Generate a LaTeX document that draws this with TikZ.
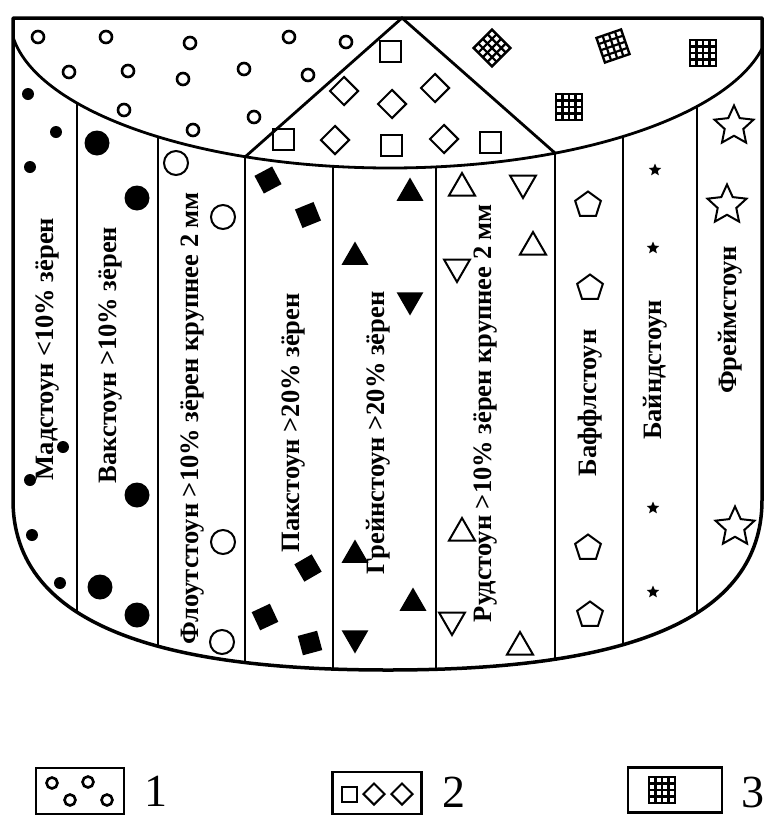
\documentclass[tikz,border=0pt]{standalone}
\usepackage{fontspec}
\setmainfont{Liberation Serif}
\usetikzlibrary{shapes.geometric,positioning}

\tikzset{
    gridsq/.pic={
        \fill[white] (-13,-13) rectangle (13,13);
        \draw[line width=2.4pt] (-13,-13) rectangle (13,13);
        \foreach \k in {-6.5,0,6.5} {
            \draw[line width=2.2pt] (\k,-13) -- (\k,13) (-13,\k) -- (13,\k);
        }
    }
}

\begin{document}
\begin{tikzpicture}[x=1pt, y=-1pt,
        outline/.style={line width=3.5pt, line join=round},
        divider/.style={line width=1.7pt},
        groupline/.style={line width=2.8pt},
        rocktext/.style={rotate=90, inner sep=0pt, font=\fontsize{26.5}{28}\selectfont\bfseries},
        keytext/.style={inner sep=0pt, font=\fontsize{46}{48}\selectfont},
        keybox/.style={rectangle, draw, line width=2.3pt, inner sep=0pt},
        smallring/.style={circle, draw, line width=2.6pt, minimum size=12pt, inner sep=0pt},
        mudgrain/.style={circle, fill=black, minimum size=12pt, inner sep=0pt},
        biggrain/.style={circle, fill=black, minimum size=25pt, inner sep=0pt},
        opengrain/.style={circle, draw, line width=2pt, minimum size=24pt, inner sep=0pt},
        packgrain/.style={rectangle, fill=black, minimum size=20pt, inner sep=0pt},
        graintri/.style={regular polygon, regular polygon sides=3, fill=black, minimum size=31pt, inner sep=0pt},
        rudtri/.style={regular polygon, regular polygon sides=3, draw, line width=2pt, minimum size=30pt, inner sep=0pt},
        pentagon/.style={regular polygon, regular polygon sides=5, draw, line width=2pt, minimum size=27pt, inner sep=0pt},
        bindstar/.style={star, star points=5, star point ratio=2.2, fill=black, minimum size=13pt, inner sep=0pt},
        framestar/.style={star, star points=5, star point ratio=2.1, draw, line width=2pt, minimum size=41pt, inner sep=0pt},
        opensq/.style={rectangle, draw, line width=2pt, minimum size=21pt, inner sep=0pt},
        opendia/.style={diamond, draw, line width=2pt, minimum size=29pt, inner sep=0pt}]

    \useasboundingbox (0,0) rectangle (767,817);

    \coordinate (apex) at (402,18);
    \coordinate (jl) at (245,157);
    \coordinate (jr) at (555,153);

    \begin{scope}
        \clip (13,18) -- (762,18) -- (762,500) .. controls (762,640) and (576,670) .. (388,670)
            .. controls (200,670) and (13,640) .. (13,500) -- cycle;
        \foreach \xd in {77,158,333,436,623,697}
            \draw[divider] (\xd,0) -- (\xd,720);
        \foreach \xd in {245,555}
            \draw[groupline] (\xd,0) -- (\xd,720);
        \draw[groupline, fill=white] (390,18) ellipse [x radius=380pt, y radius=150pt];
    \end{scope}
    \draw[groupline] (jl) -- (apex) -- (jr);
    \draw[outline] (13,18) -- (762,18) -- (762,500) .. controls (762,640) and (576,670) .. (388,670)
        .. controls (200,670) and (13,640) .. (13,500) -- cycle;

    % upper field
    \foreach \p [count=\i] in {(38,37),(106,37),(190,43),(289,37),(346,42),(69,72),(128,71),
            (183,79),(244,69),(308,75),(124,110),(193,130),(254,117)}
        \node[smallring] (ring\i) at \p {};
    \foreach \p [count=\i] in {(390,51),(283,139),(391,145),(490,142)}
        \node[opensq] (sq\i) at \p {};
    \foreach \p [count=\i] in {(344,91),(392,104),(435,88),(335,140),(444,139)}
        \node[opendia] (dia\i) at \p {};
    \pic[rotate=45] at (492,48) {gridsq};
    \pic[rotate=19] at (613,46) {gridsq};
    \pic at (703,53) {gridsq};
    \pic at (569,107) {gridsq};

    % columns
    \foreach \p [count=\i] in {(28,94),(56,132),(30,167),(63,447),(30,480),(32,535),(60,583)}
        \node[mudgrain] (mud\i) at \p {};
    \foreach \p [count=\i] in {(97,143),(137,198),(137,495),(100,587),(137,615)}
        \node[biggrain] (wack\i) at \p {};
    \foreach \p [count=\i] in {(176,163),(223,217),(223,542),(222,642)}
        \node[opengrain] (float\i) at \p {};
    \foreach \p/\r [count=\i] in {(268,180)/28,(308,215)/22,(308,568)/30,(265,617)/25,(310,643)/15}
        \node[packgrain, rotate=\r] (pack\i) at \p {};
    \foreach \p [count=\i] in {(410,193),(355,257),(355,555),(413,603)}
        \node[graintri] (grainup\i) at \p {};
    \foreach \p [count=\i] in {(410,300),(355,638)}
        \node[graintri, shape border rotate=180] (graindn\i) at \p {};
    \foreach \p [count=\i] in {(462,188),(533,247),(462,533),(520,647)}
        \node[rudtri] (rudup\i) at \p {};
    \foreach \p [count=\i] in {(523,183),(457,267),(452,620)}
        \node[rudtri, shape border rotate=180] (ruddn\i) at \p {};
    \foreach \p [count=\i] in {(588,205),(590,288),(588,548),(590,615)}
        \node[pentagon] (baffle\i) at \p {};
    \foreach \p [count=\i] in {(655,170),(653,248),(653,508),(653,592)}
        \node[bindstar] (bind\i) at \p {};
    \foreach \p [count=\i] in {(734,126),(727,205),(735,527)}
        \node[framestar] (frame\i) at \p {};

    \node[rocktext] (mudtext) at (47,349) {Мадстоун <10\% зёрен};
    \node[rocktext] (wacktext) at (110,355) {Вакстоун >10\% зёрен};
    \node[rocktext] (floattext) at (192,418) {Флоутстоун >10\% зёрен крупнее 2 мм};
    \node[rocktext] (packtext) at (293,423) {Пакстоун >20\% зёрен};
    \node[rocktext] (graintext) at (378,433) {Грейнстоун >20\% зёрен};
    \node[rocktext] (rudtext) at (485,413) {Рудстоун >10\% зёрен крупнее 2 мм};
    \node[rocktext] (baffletext) at (590,403) {Баффлстоун};
    \node[rocktext] (bindtext) at (655,370) {Байндстоун};
    \node[rocktext] (frametext) at (730,320) {Фреймстоун};

    % legend
    \node[keybox, minimum width=88pt, minimum height=46pt] (key1) at (80,791) {};
    \node[keybox, minimum width=89pt, minimum height=42pt] (key2) at (377,793) {};
    \node[keybox, minimum width=94pt, minimum height=45pt] (key3) at (675,790) {};
    \node[keytext, right=19pt of key1] (num1) {1};
    \node[keytext, right=20pt of key2, yshift=1pt] (num2) {2};
    \node[keytext, right=18pt of key3, yshift=-2pt] (num3) {3};
    \foreach \p [count=\i] in {(52,783),(70,800),(88,782),(107,800)}
        \node[smallring, minimum size=11pt] (keyring\i) at \p {};
    \node[opensq, minimum size=15pt] (keysq) at (349,794) {};
    \node[opendia, minimum size=22pt] (keydia1) at (374,794) {};
    \node[opendia, minimum size=22pt] (keydia2) at (402,794) {};
    \pic at (662,790) {gridsq};
\end{tikzpicture}
\end{document}
